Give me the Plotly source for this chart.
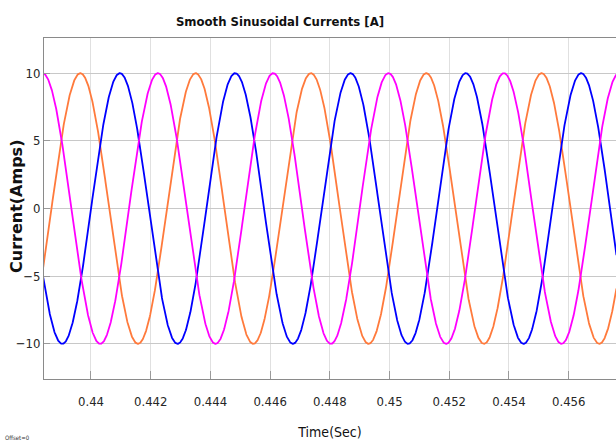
import numpy as np
import plotly.graph_objects as go

# ---- data ----
amplitude = 10.0            # A, peak of each phase current
frequency = 258.9           # Hz, from peak spacing
phase_names = ["Ia", "Ib", "Ic"]
phase_colors = ["#FF7A3C", "#0000FF", "#FF00FF"]
peak_times = [0.439642, 0.440968, 0.442240]  # s, time of a positive peak of each phase
t_start, t_end = 0.4384, 0.4576
x_ticks = [0.44, 0.442, 0.444, 0.446, 0.448, 0.45, 0.452, 0.454, 0.456]
x_tick_text = ["0.44", "0.442", "0.444", "0.446", "0.448", "0.45", "0.452", "0.454", "0.456"]
y_ticks = [-10, -5, 0, 5, 10]

t = np.linspace(t_start, t_end, 2000)

fig = go.Figure()
for name, col, tp in zip(phase_names, phase_colors, peak_times):
    fig.add_trace(go.Scatter(
        x=t, y=amplitude * np.cos(2 * np.pi * frequency * (t - tp)),
        mode="lines", name=name, line=dict(color=col, width=1.8), showlegend=False))

NARROW = "DejaVu Sans Condensed, Liberation Sans Narrow, Liberation Sans"
tick_font = dict(family=NARROW, size=13, color="#262626")

fig.update_layout(
    width=616, height=445,
    margin=dict(l=44, r=0, t=38, b=66),
    paper_bgcolor="white", plot_bgcolor="white",
    title=dict(text="<b>Smooth Sinusoidal Currents [A]</b>", x=280/616, xanchor="center",
               y=1 - 21/445, yanchor="middle",
               font=dict(family=NARROW, size=13, color="#111")),
    xaxis=dict(range=[0.438426, 0.457584], tickvals=x_ticks, ticktext=x_tick_text,
               showgrid=True, gridcolor="#e0e0e0", gridwidth=1,
               showline=True, linecolor="#8a8a8a", linewidth=1, mirror=True,
               ticks="inside", ticklen=8, tickcolor="#9a9a9a",
               tickfont=tick_font, zeroline=False, ticklabelstandoff=10,
               title=dict(text="Time(Sec)", standoff=19,
                          font=dict(family=NARROW, size=14, color="#111"))),
    yaxis=dict(range=[-12.6, 12.6], tickvals=y_ticks,
               showgrid=True, gridcolor="#c8c8c8", gridwidth=1,
               showline=True, linecolor="#8a8a8a", linewidth=1, mirror=False,
               ticks="inside", ticklen=6, tickcolor="#9a9a9a",
               tickfont=tick_font, zeroline=False),
)

# y-axis title placed as a rotated annotation (left of tick labels)
fig.add_annotation(text="<b>Current(Amps)</b>", textangle=-90,
                   x=(16 - 44) / 572, y=(379 - 207) / 341, xref="paper", yref="paper",
                   showarrow=False, font=dict(family="DejaVu Sans", size=16, color="#111"),
                   xanchor="center", yanchor="middle")

fig.add_annotation(text="Offset=0", x=(17 - 44) / 572, y=(379 - 437) / 341, xref="paper", yref="paper",
                   showarrow=False, font=dict(family=NARROW, size=6, color="#333"),
                   xanchor="center", yanchor="middle")

fig.write_html("out.html")
